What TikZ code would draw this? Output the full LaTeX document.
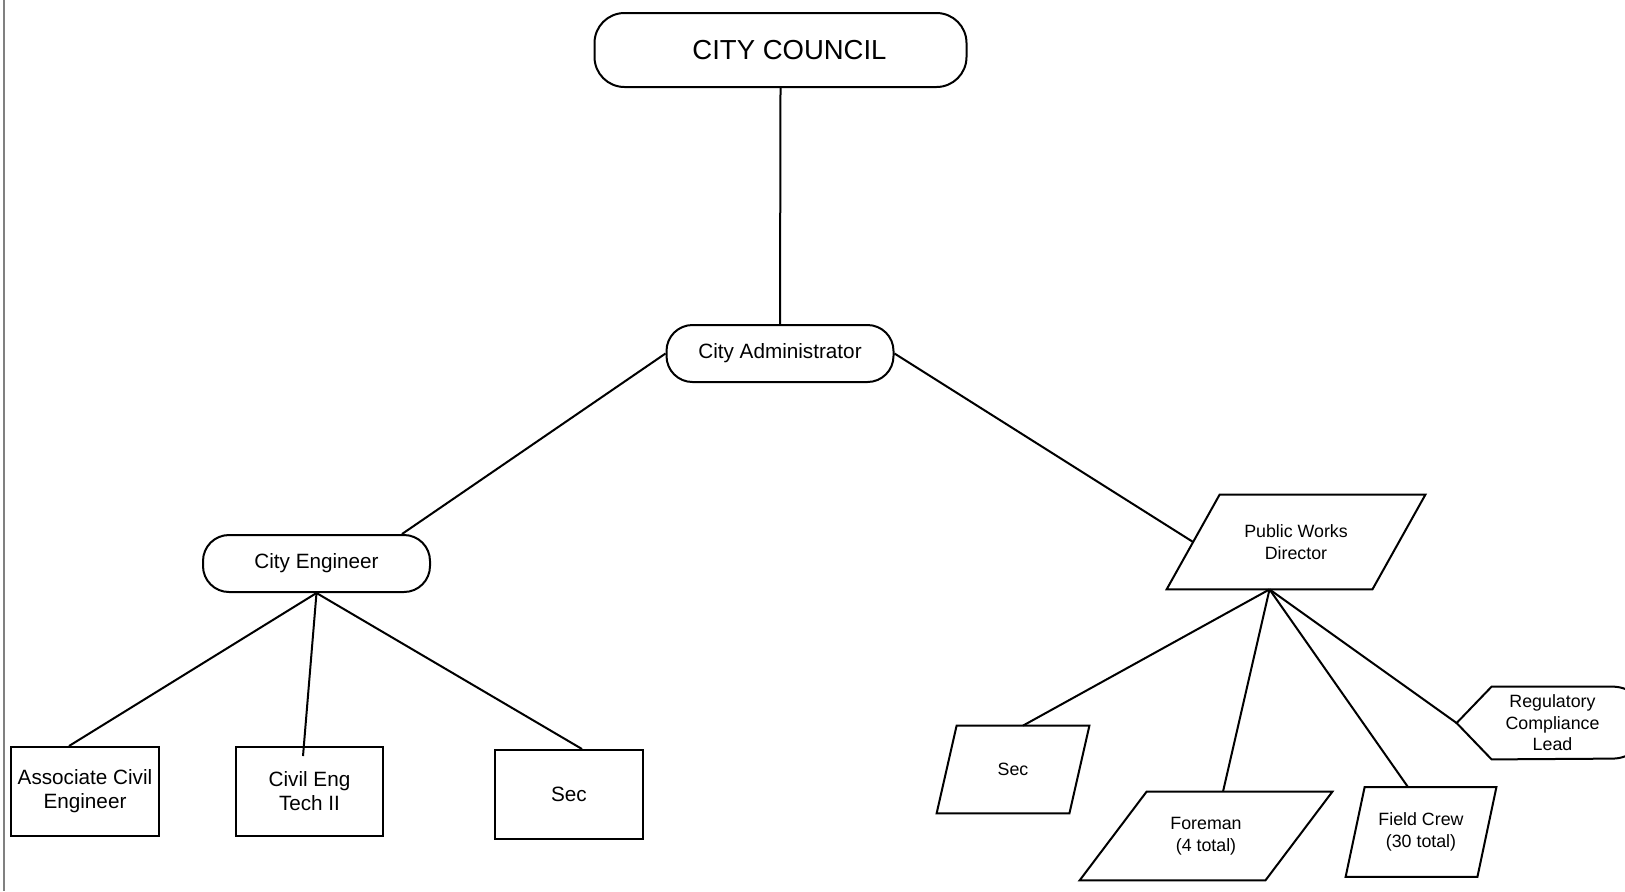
\documentclass[tikz,border=0pt]{standalone}
\usepackage{fontspec}
\setmainfont{Liberation Sans}
\newcommand\pgram[2]{\draw[conn] ([xshift=#2]#1.north west) -- (#1.north east) -- ([xshift=-#2]#1.south east) -- (#1.south west) -- cycle;}
\begin{document}
\begin{tikzpicture}[x=0.5pt,y=-0.5pt,
  conn/.style={line width=1pt, line join=miter},
  box/.style={draw, line width=1pt, align=center, inner sep=0pt},
  txtbox/.style={align=center, inner sep=0pt},
  fbig/.style={font=\fontsize{13.75pt}{16pt}\selectfont},
  fmid/.style={font=\fontsize{10.35pt}{12pt}\selectfont},
  fsml/.style={font=\fontsize{8.9pt}{10.75pt}\selectfont}]
\useasboundingbox (0,0) rectangle (1625,891);
\clip (0,0) rectangle (1625,891);
\fill[white] (0,0) rectangle (1625,891);
\draw[gray, line width=1pt] (4,0) -- (4,891);

% nodes
\node[box, fbig, rounded corners=15pt, minimum width=186pt, minimum height=37pt] (council) at (780.5,50) {\hspace*{9pt}CITY COUNCIL};
\node[box, fmid, rounded corners=13pt, minimum width=113.5pt, minimum height=28.5pt] (admin) at (780,353.5) {City Administrator};
\node[box, fmid, rounded corners=13pt, minimum width=113.5pt, minimum height=28.5pt] (ce) at (316.5,563.5) {City Engineer};
\node[box, fmid, minimum width=74pt, minimum height=44.5pt] (ace) at (85,791.5) {Associate Civil\\Engineer};
\node[box, fmid, minimum width=73.5pt, minimum height=44.5pt] (cet) at (309.5,791.5) {Civil Eng\\Tech II};
\node[box, fmid, minimum width=74pt, minimum height=44.5pt] (secl) at (569,794.5) {Sec};
\node[txtbox, fsml, minimum width=129pt, minimum height=47pt] (pwd) at (1296,542) {Public Works\\Director};
\node[txtbox, fsml, minimum width=76pt, minimum height=43.5pt] (secr) at (1013,769.5) {Sec};
\node[txtbox, fsml, minimum width=126pt, minimum height=44pt] (fore) at (1206,836) {Foreman\\(4 total)};
\node[txtbox, fsml, minimum width=75pt, minimum height=44.5pt] (fc) at (1421,832) {Field Crew\\(30 total)};
\node[txtbox, fsml, minimum width=95.5pt, minimum height=36pt] (rcl) at (1552.5,723) {Regulatory\\Compliance\\Lead};

% shapes
\pgram{pwd}{26.5pt}
\pgram{secr}{10pt}
\pgram{fore}{33.5pt}
\pgram{fc}{9.5pt}
\draw[conn] (rcl.west) -- ([xshift=17.5pt]rcl.north west) -- ([xshift=-18pt]rcl.north east)
  arc[start angle=90, end angle=-90, radius=18pt] -- ([xshift=17.5pt]rcl.south west) -- cycle;

% connectors
\draw[conn] (council.south) -- (admin.north);
\draw[conn] (admin.west) -- ([xshift=-14.5pt]ce.north east);
\draw[conn] (admin.east) -- ([xshift=13.25pt]pwd.west);
\draw[conn] (ce.south) -- ([xshift=-8pt]ace.north);
\draw[conn] (ce.south) -- ([xshift=-3.25pt,yshift=-5pt]cet.north);
\draw[conn] (ce.south) -- ([xshift=6.5pt]secl.north);
\draw[conn] ([xshift=-13.25pt]pwd.south) -- ([xshift=5pt]secr.north);
\draw[conn] ([xshift=-13.25pt]pwd.south) -- ([xshift=8.5pt]fore.north);
\draw[conn] ([xshift=-13.25pt]pwd.south) -- ([xshift=-6.5pt]fc.north);
\draw[conn] ([xshift=-13.25pt]pwd.south) -- (rcl.west);
\end{tikzpicture}
\end{document}
